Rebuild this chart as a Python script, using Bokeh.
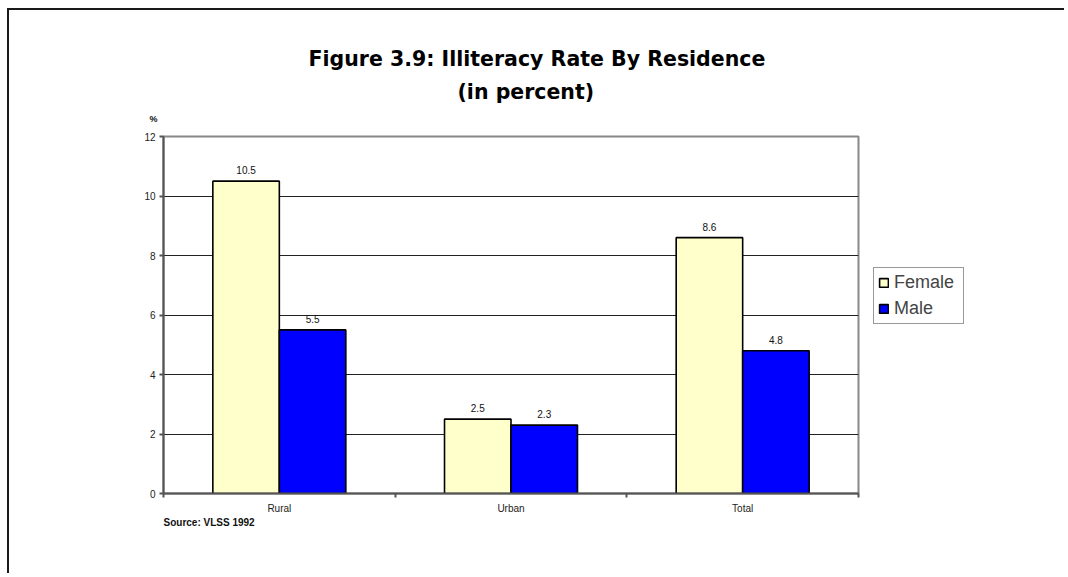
from bokeh.plotting import figure
from bokeh.layouts import row
from bokeh.models import Range1d, FixedTicker, Legend, LegendItem, Title, ColumnDataSource
from bokeh.transform import dodge
from bokeh.core.properties import value
from bokeh.embed import file_html
from bokeh.resources import INLINE

# ---- data ----
categories = ["Rural", "Urban", "Total"]
female = [10.5, 2.5, 8.6]
male = [5.5, 2.3, 4.8]
series_names = ["Female", "Male"]
series_colors = ["#FFFFCC", "#0000FF"]
y_ticks = [0, 2, 4, 6, 8, 10, 12]
title_line1 = "Figure 3.9: Illiteracy Rate By Residence"
title_line2 = "(in percent)"
source_note = "Source: VLSS 1992"
y_unit = "%"

# ---- layout constants ----
H = 563
W_MAIN, W_LEG = 857, 198
BL, BT, BR, BB = 154, 126, 8, 80
FONT = "Liberation Sans"
TFONT = "DejaVu Sans"
BAR_W = 0.287

pos = [i + 0.5 for i in range(len(categories))]
src = ColumnDataSource(dict(
    x=pos, female=female, male=male,
    flab=[f"{v:.1f}" for v in female],
    mlab=[f"{v:.1f}" for v in male],
))

p = figure(width=W_MAIN, height=H, output_backend="svg", toolbar_location=None,
           x_range=Range1d(0, len(categories)), y_range=Range1d(y_ticks[0], y_ticks[-1]),
           min_border_left=BL, min_border_top=BT, min_border_right=BR, min_border_bottom=BB,
           background_fill_color="white", border_fill_color="white")

p.outline_line_color = "#888888"
p.outline_line_width = 2

bar_cols = ["female", "male"]
offsets = [-BAR_W / 2, BAR_W / 2]
label_cols = ["flab", "mlab"]

for col, off, c in zip(bar_cols, offsets, series_colors):
    p.vbar(x=dodge("x", off), top=col, width=BAR_W, source=src,
           fill_color=c, line_color="black", line_width=1.6)
for col, lab, off in zip(bar_cols, label_cols, offsets):
    p.text(x=dodge("x", off), y=col, text=lab, source=src, y_offset=-11,
           text_align="center", text_baseline="alphabetic",
           text_font=value(FONT), text_font_size="10px", text_color="#111")

# axes
xa = p.xaxis[0]
xa.ticker = FixedTicker(ticks=pos, minor_ticks=list(range(len(categories) + 1)))
xa.major_label_overrides = {pp: c for pp, c in zip(pos, categories)}
xa.major_tick_out = 0
xa.major_tick_in = 0
xa.minor_tick_out = 4
xa.minor_tick_in = 0
xa.minor_tick_line_color = "#555"
xa.minor_tick_line_width = 2
xa.axis_line_color = "#555"
xa.axis_line_width = 2
xa.major_label_standoff = 5
xa.major_label_text_font = FONT
xa.major_label_text_font_size = "10px"
xa.major_label_text_color = "#222"

ya = p.yaxis[0]
ya.ticker = FixedTicker(ticks=y_ticks, minor_ticks=[])
ya.major_tick_out = 4
ya.major_tick_in = 0
ya.major_tick_line_color = "#555"
ya.major_tick_line_width = 2
ya.axis_line_color = "#555"
ya.axis_line_width = 2
ya.major_label_standoff = 4
ya.major_label_text_font = FONT
ya.major_label_text_font_size = "10px"
ya.major_label_text_color = "#222"

p.xgrid.visible = False
p.ygrid.ticker = FixedTicker(ticks=y_ticks)
p.ygrid.grid_line_color = "#222"
p.ygrid.grid_line_width = 1

# texts outside the frame (stacked upward from the frame: %, subtitle, title)
p.title.text = title_line1
p.title.align = "left"
p.title.offset = 145
p.title.text_font = TFONT
p.title.text_font_style = "bold"
p.title.text_font_size = "20.5px"
p.title.text_color = "black"
p.title.standoff = 14

p.add_layout(Title(text=y_unit, align="left", offset=-14, vertical_align="top",
                   text_font=FONT, text_font_style="bold",
                   text_font_size="9px", text_color="#111", standoff=21), "above")
p.add_layout(Title(text=title_line2, align="left", offset=294,
                   text_font=TFONT, text_font_style="bold",
                   text_font_size="20.5px", text_color="black", standoff=0), "above")
p.add_layout(Title(text=source_note, align="left", offset=0, vertical_align="top",
                   text_font=FONT, text_font_style="bold",
                   text_font_size="10px", text_color="#111", standoff=0), "below")

# legend panel: a separate canvas to the right of the chart (its frame is aligned
# with the chart frame by the row layout); its swatch renderers hold no drawable point
pl = figure(width=W_LEG, height=H, output_backend="svg", toolbar_location=None,
            x_range=Range1d(0, 1), y_range=Range1d(y_ticks[0], y_ticks[-1]),
            x_axis_type=None, y_axis_type=None, min_border=0,
            outline_line_color=None, background_fill_color="white",
            border_fill_color="white")
swatch_src = ColumnDataSource(dict(x=[float("nan")], top=[float("nan")]))
leg_r = [pl.vbar(x="x", top="top", width=BAR_W, source=swatch_src, fill_color=c,
                 line_color="black", line_width=1.6) for c in series_colors]
legend = Legend(items=[LegendItem(label=n, renderers=[r], index=0)
                       for n, r in zip(series_names, leg_r)],
                location=(7, 169), orientation="vertical",
                border_line_color="#333", border_line_width=1,
                background_fill_color="white", background_fill_alpha=1,
                padding=4, spacing=5, margin=0, label_height=21, label_width=65,
                glyph_height=11, glyph_width=11, label_standoff=5,
                label_text_font=FONT, label_text_font_size="18px")
pl.add_layout(legend, "center")

layout = row(p, pl, spacing=0)
layout.styles = {"margin-left": "7px", "margin-top": "8px",
                 "border-left": "2px solid #1a1a1a", "border-top": "2px solid #1a1a1a"}

open("out.html", "w").write(file_html(layout, INLINE))
